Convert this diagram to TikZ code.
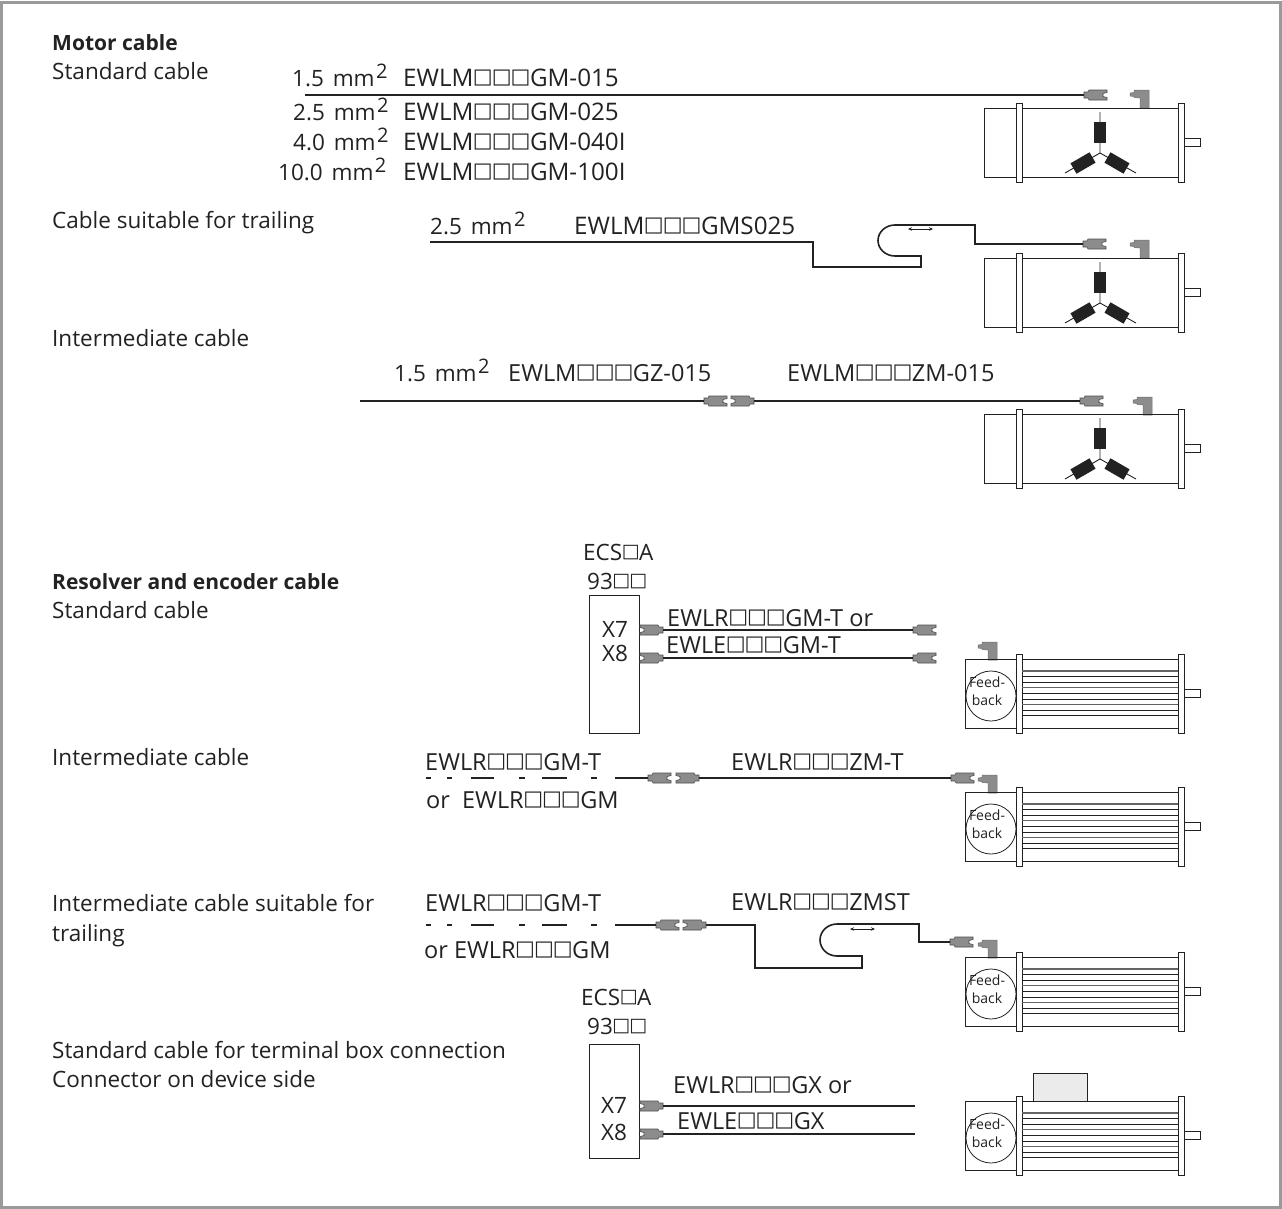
\documentclass[tikz,border=0pt]{standalone}
\usepackage{fontspec}
\usepackage{xcolor}
\setmainfont{Open Sans}
\newfontfamily\symfont{DejaVu Sans}
\usetikzlibrary{arrows.meta, calc}
\definecolor{framegray}{HTML}{9A9A9A}
\definecolor{plugray}{HTML}{8C8C8C}
\definecolor{inkdark}{HTML}{222222}
\newcommand{\sq}{\kern-0.5pt\raisebox{2.4pt}{\symfont\fontsize{21}{24}\selectfont □}\kern-0.5pt}
\newcommand{\sqs}{\kern-0.5pt\raisebox{2.2pt}{\symfont\fontsize{19}{24}\selectfont □}\kern-0.5pt}
\newcommand{\sqmm}{\kern3pt mm\kern1.5pt\raisebox{7.5pt}{\fontsize{20}{20}\selectfont 2}}
\tikzset{
  lbl/.style={anchor=base west, inner sep=0pt, font=\fontsize{22.5}{24}\selectfont, text=inkdark},
  typelbl/.style={lbl, font=\fontsize{23.5}{24}\selectfont},
  typewide/.style={lbl, font=\fontsize{24.2}{24}\selectfont},
  head/.style={lbl, font=\fontsize{21}{24}\selectfont\bfseries},
  small/.style={anchor=base, inner sep=0pt, font=\fontsize{14}{18}\selectfont, text=inkdark},
  cable/.style={line width=1.6pt, inkdark},
  thincable/.style={line width=1.1pt, inkdark},
  outline/.style={line width=1pt, inkdark},
  device/.style={line width=0.9pt, draw=inkdark},
  plug/.pic={
    \coordinate (-nose) at (0,0);
    \filldraw[line width=0.6pt, draw=inkdark!80, fill=plugray]
      (0,-3) -- (4,-3) -- (5,-5) -- (23,-5) -- (23,-2.5) -- (19,-1.5) -- (19,1.5)
      -- (23,2.5) -- (23,5) -- (5,5) -- (4,3) -- (0,3) -- cycle;
  },
  socket/.pic={
    \filldraw[line width=0.5pt, draw=plugray!80!black, fill=plugray]
      (4,0) -- (19,0) -- (19,18) -- (10,18) -- (10,8) -- (4,7.5) -- (4,6.5)
      -- (0,6) -- (0,3) -- (4,2.5) -- cycle;
  },
  flanges/.pic={
    % Body, flanges and shaft
    \draw[outline] (57,0) -- (213,0) (57,69) -- (213,69);
    \draw[outline, fill=white] (51,-5) rectangle (57,74);
    \draw[outline, fill=white] (213,-5) rectangle (219,74);
    \draw[outline, fill=white] (219,30) rectangle (235,38);
  },
  windmotor/.pic={
    \draw[outline] (32,0) -- (0,0) -- (0,69) -- (32,69);
    \pic at (-19,0) {flanges};
    % Windings
    \draw[line width=0.9pt, inkdark] (116,4) -- (116,45) (81,65) -- (116,45) -- (152,65);
    \fill[inkdark] (110,14) rectangle (122,35);
    \fill[inkdark, rotate around={30:(99,55)}] (88,49) rectangle (110,61);
    \fill[inkdark, rotate around={-30:(133,55)}] (122,49) rectangle (144,61);
  },
  fbmotor/.pic={
    \draw[outline] (51,0) -- (0,0) -- (0,69) -- (51,69);
    \pic at (0,0) {flanges};
    % Fins
    \foreach \k in {0,3,6}
      \draw[line width=1.3pt, inkdark!70] (57,{12+5.6*\k}) -- (213,{12+5.6*\k});
    \foreach \k in {1,2,4,5,7,8}
      \draw[line width=1pt, inkdark] (57,{12+5.6*\k}) -- (213,{12+5.6*\k});
    \draw[line width=0.8pt, inkdark] (26,37) circle (25);
    \node[small] (-feed) at (22,28) {Feed-};
    \node[small] (-back) at (22,46) {back};
  },
  flexarrow/.style={{Stealth[length=4pt,width=3.5pt]}-{Stealth[length=4pt,width=3.5pt]}, line width=0.7pt, inkdark},
}
\begin{document}
\begin{tikzpicture}[x=1pt, y=-1pt]
  \useasboundingbox (0,0) rectangle (1282,1208);
  \fill[white] (0,0) rectangle (1282,1208);
  \draw[line width=3pt, framegray] (1.5,2) rectangle (1280.5,1207);

  % Motor cable texts
  \node[head] (motorhead) at (52,50) {Motor cable};
  \node[lbl] (stdmotor) at (52,79) {Standard cable};
  \node[lbl] (size1) at (292,86) {1.5 \sqmm};
  \node[typewide] (type1) at (403,86) {EWLM\sq\sq\sq GM-015};
  \node[lbl] (size2) at (293,120) {2.5 \sqmm};
  \node[typewide] (type2) at (403,120) {EWLM\sq\sq\sq GM-025};
  \node[lbl] (size3) at (293,150) {4.0 \sqmm};
  \node[typewide] (type3) at (403,150) {EWLM\sq\sq\sq GM-040I};
  \node[lbl] (size4) at (278,180) {10.0 \sqmm};
  \node[typewide] (type4) at (403,180) {EWLM\sq\sq\sq GM-100I};
  \node[lbl] (trailmotor) at (52,228) {Cable suitable for trailing};
  \node[lbl] (size5) at (430,234) {2.5 \sqmm};
  \node[typewide] (type5) at (574,234) {EWLM\sq\sq\sq GMS025};
  \node[lbl] (intermotor) at (52,346) {Intermediate cable};
  \node[lbl] (size6) at (394,381) {1.5 \sqmm};
  \node[typelbl] (type6) at (508,381) {EWLM\sq\sq\sq GZ-015};
  \node[typelbl] (type7) at (787,381) {EWLM\sq\sq\sq ZM-015};

  % Motors with windings
  \pic at (1130,90) {socket};
  \pic at (984,108) {windmotor};
  \pic at (1130,240) {socket};
  \pic at (984,258) {windmotor};
  \pic at (1133,397) {socket};
  \pic at (984,414) {windmotor};

  % Motor cable runs
  \coordinate (start1) at (305,95);
  \pic (plug1) at (1084,95) {plug};
  \draw[cable] (start1) -- (plug1-nose);

  \coordinate (start2) at (430,242);
  \pic (plug2) at (1083,244) {plug};
  \draw[cable] (start2) -- (813,242) -- (813,267) -- (921,267) -- (921,256) -- (895,256)
    arc[start angle=90, end angle=270, x radius=17, y radius=15.5] -- (975,225) -- (975,244) -- (plug2-nose);
  \coordinate (arrowA) at (908,229);
  \coordinate (arrowB) at (933,229);
  \draw[flexarrow] (arrowA) -- (arrowB);

  \coordinate (start3) at (360,401);
  \pic (plug3a) at (704,401) {plug};
  \pic[xscale=-1] (plug3b) at (754,401) {plug};
  \pic (plug3c) at (1080,401) {plug};
  \draw[thincable] (start3) -- (plug3a-nose);
  \draw[thincable] (plug3b-nose) -- (plug3c-nose);

  % Resolver and encoder texts
  \node[lbl] (ecs1) at (583,560) {ECS\sqs A};
  \node[lbl] (ninety1) at (587,589) {93\sqs\sqs};
  \node[head] (reshead) at (52,589) {Resolver and encoder cable};
  \node[lbl] (stdres) at (52,618) {Standard cable};
  \node[lbl] (xseven1) at (602,637) {X7};
  \node[lbl] (xeight1) at (602,661) {X8};
  \node[typelbl] (typeA) at (667,626) {EWLR\sq\sq\sq GM-T or};
  \node[typelbl] (typeB) at (666,653) {EWLE\sq\sq\sq GM-T};
  \node[lbl] (interres) at (52,765) {Intermediate cable};
  \node[typelbl] (typeC) at (425,770) {EWLR\sq\sq\sq GM-T};
  \node[typelbl] (typeD) at (426,808) {or\ \ EWLR\sq\sq\sq GM};
  \node[typelbl] (typeE) at (731,770) {EWLR\sq\sq\sq ZM-T};
  \node[lbl] (trailres1) at (52,911) {Intermediate cable suitable for};
  \node[lbl] (trailres2) at (52,941) {trailing};
  \node[typelbl] (typeF) at (425,911) {EWLR\sq\sq\sq GM-T};
  \node[typelbl] (typeG) at (424,958) {or EWLR\sq\sq\sq GM};
  \node[typelbl] (typeH) at (731,910) {EWLR\sq\sq\sq ZMST};
  \node[lbl] (ecs2) at (581,1005) {ECS\sqs A};
  \node[lbl] (ninety2) at (587,1034) {93\sqs\sqs};
  \node[lbl] (boxres1) at (52,1058) {Standard cable for terminal box connection};
  \node[lbl] (boxres2) at (52,1087) {Connector on device side};
  \node[lbl] (xseven2) at (601,1113) {X7};
  \node[lbl] (xeight2) at (601,1140) {X8};
  \node[typelbl] (typeI) at (673,1093) {EWLR\sq\sq\sq GX or};
  \node[typelbl] (typeJ) at (677,1129) {EWLE\sq\sq\sq GX};

  % Devices
  \draw[device] (589,595) rectangle (639.5,733);
  \draw[device] (589,1044) rectangle (639.5,1158);

  % Motors with feedback
  \pic at (978,642) {socket};
  \pic at (965,659) {fbmotor};
  \pic at (978,775) {socket};
  \pic at (965,792) {fbmotor};
  \pic at (978,940) {socket};
  \pic at (965,957) {fbmotor};
  \draw[line width=0.9pt, inkdark, fill=black!8] (1033,1073) rectangle (1087,1101);
  \pic at (965,1101) {fbmotor};

  % Resolver cable runs
  \pic[xscale=-1] (plug4a) at (663,630) {plug};
  \pic (plug4b) at (913,630) {plug};
  \draw[thincable] (plug4a-nose) -- (plug4b-nose);
  \pic[xscale=-1] (plug5a) at (663,658) {plug};
  \pic (plug5b) at (913,658) {plug};
  \draw[cable] (plug5a-nose) -- (plug5b-nose);

  \coordinate (start6) at (426,778);
  \pic (plug6a) at (648,778) {plug};
  \pic[xscale=-1] (plug6b) at (699,778) {plug};
  \pic (plug6c) at (951,778) {plug};
  \draw[thincable, dash pattern=on 5pt off 16pt on 5pt off 19pt on 23pt off 25pt on 6pt off 17pt on 25pt off 24pt on 6pt off 18pt on 60pt] (start6) -- (plug6a-nose);
  \draw[thincable] (plug6b-nose) -- (plug6c-nose);

  \coordinate (start7) at (426,925);
  \pic (plug7a) at (656,925) {plug};
  \pic[xscale=-1] (plug7b) at (706,925) {plug};
  \pic (plug7c) at (950,942) {plug};
  \draw[thincable, dash pattern=on 5pt off 16pt on 5pt off 19pt on 23pt off 25pt on 6pt off 17pt on 25pt off 24pt on 6pt off 18pt on 60pt] (start7) -- (plug7a-nose);
  \draw[cable] (plug7b-nose) -- (755,925) -- (755,968) -- (862,968) -- (862,956) -- (837,956)
    arc[start angle=90, end angle=270, x radius=17, y radius=16] -- (919,924) -- (919,942) -- (plug7c-nose);
  \coordinate (arrowC) at (850,929);
  \coordinate (arrowD) at (875,929);
  \draw[flexarrow] (arrowC) -- (arrowD);

  \pic[xscale=-1] (plug8a) at (663,1106) {plug};
  \coordinate (end8) at (915,1106);
  \draw[cable] (plug8a-nose) -- (end8);
  \pic[xscale=-1] (plug9a) at (663,1134) {plug};
  \coordinate (end9) at (915,1134);
  \draw[cable] (plug9a-nose) -- (end9);
\end{tikzpicture}
\end{document}
